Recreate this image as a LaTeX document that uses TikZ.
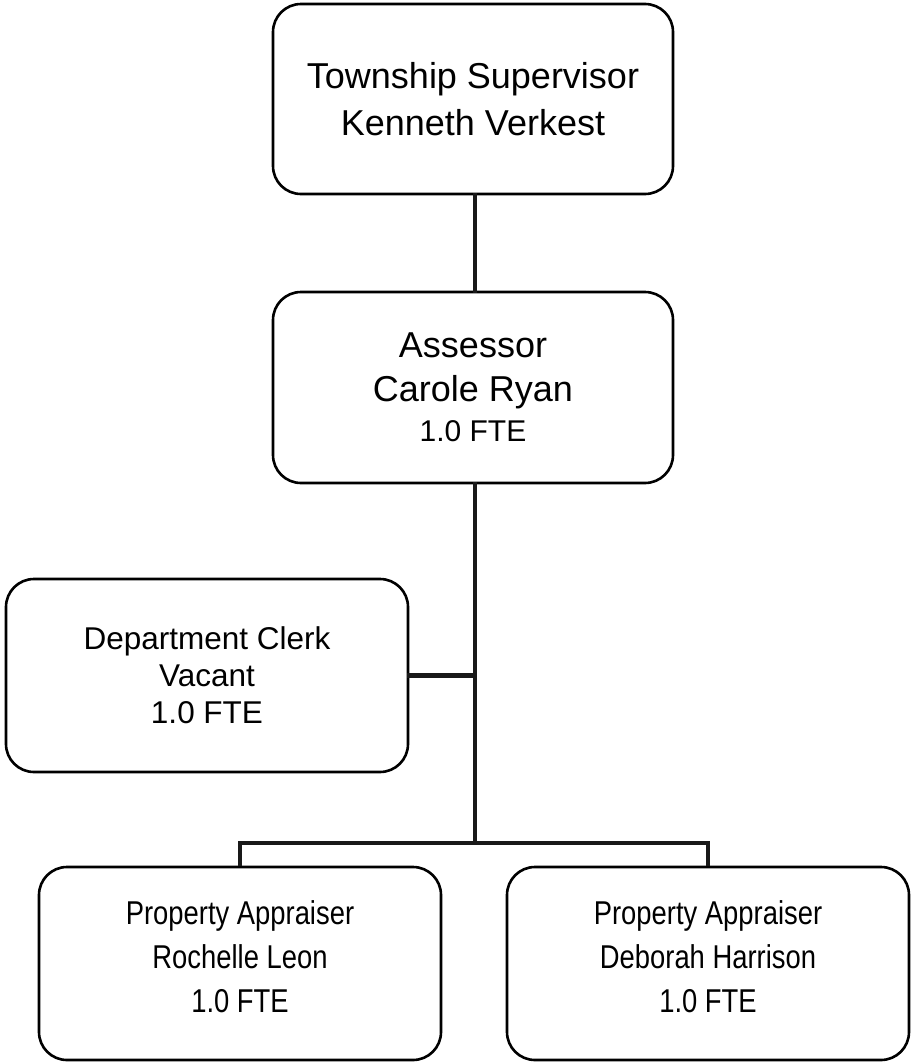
\documentclass[tikz,border=0pt]{standalone}
\usepackage{fontspec}
\setmainfont{Liberation Sans}
\newfontfamily\narrowfont{Liberation Sans}[FakeStretch=0.83]
\begin{document}
\begin{tikzpicture}[x=1pt,y=-1pt,
  orgbox/.style={draw=black, line width=2.6pt, rounded corners=28pt, fill=white,
    align=center, inner sep=0pt, minimum width=400pt},
  link/.style={draw=black!90, line width=4.5pt, line cap=rect}]
  % page
  \path[fill=white,use as bounding box] (0,0) rectangle (912,1063);

  % boxes
  \node[orgbox, minimum height=190pt, font={\fontsize{36}{47}\selectfont}] (sup) at (473,99)
    {Township Supervisor\\Kenneth Verkest};
  \node[orgbox, minimum height=191pt, font={\fontsize{36}{44}\selectfont}] (ass) at (473,387.5)
    {Assessor\\Carole Ryan\\[-4pt]{\fontsize{30}{40}\selectfont 1.0 FTE}};
  \node[orgbox, minimum width=402pt, minimum height=193pt, font={\fontsize{31.5}{37}\selectfont}] (clerk) at (207,675.5)
    {Department Clerk\\Vacant\\1.0 FTE};
  \node[orgbox, minimum width=402pt, minimum height=193pt] (pa1) at (240,963.5) {};
  \node[orgbox, minimum width=402pt, minimum height=193pt] (pa2) at (708,963.5) {};
  \node[align=center, inner sep=0pt, font={\narrowfont\fontsize{33}{44}\selectfont}] (pa1t) at (240,957)
    {Property Appraiser\\Rochelle Leon\\1.0 FTE};
  \node[align=center, inner sep=0pt, font={\narrowfont\fontsize{33}{44}\selectfont}] (pa2t) at (708,957)
    {Property Appraiser\\Deborah Harrison\\1.0 FTE};

  % connectors
  \coordinate (spine) at (475,843);
  \draw[link] (sup.south -| spine) -- (ass.north -| spine);
  \draw[link] (ass.south -| spine) -- (spine);
  \draw[link] (clerk.east) -- (clerk.east -| spine);
  \draw[link, line cap=butt] (pa1.north) |- (spine) -| (pa2.north);
\end{tikzpicture}
\end{document}
